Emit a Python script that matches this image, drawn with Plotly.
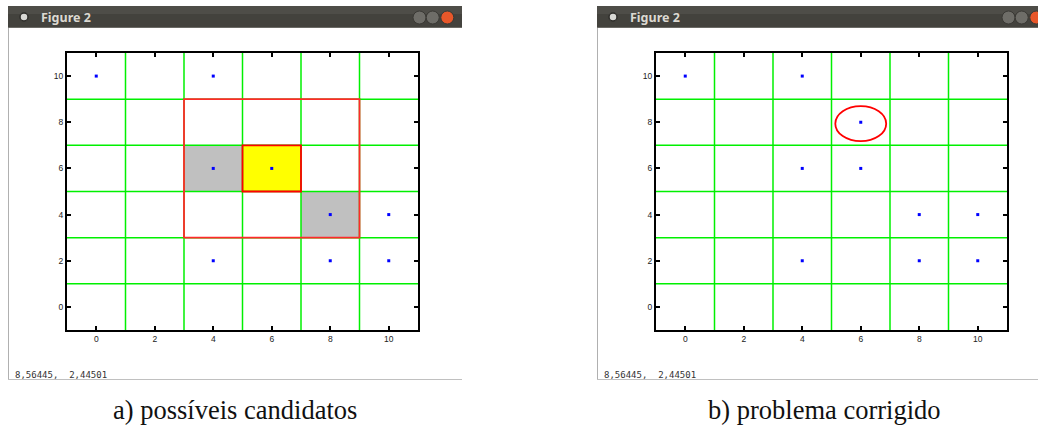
import plotly.graph_objects as go

W, H = 1038, 425

# ---- data ----
tick_vals = [0, 2, 4, 6, 8, 10]
grid_lines = [1, 3, 5, 7, 9]
axis_range = [-1, 11]

pts_a_x = [0, 4, 4, 6, 8, 10, 4, 8, 10]
pts_a_y = [10, 10, 6, 6, 4, 4, 2, 2, 2]

pts_b_x = [0, 4, 6, 4, 6, 8, 10, 4, 8, 10]
pts_b_y = [10, 10, 8, 6, 6, 4, 4, 2, 2, 2]

search_box = [3, 9, 3, 9]             # x0, x1, y0, y1
current_cell = [5, 7, 5, 7]
candidate_cells = [[3, 5, 5, 7], [7, 9, 3, 5]]
corrected_point = [6, 8]

status_text = "8,56445,  2,44501"
window_title = "Figure 2"
captions = ["a) possíveis candidatos", "b) problema corrigido"]


def px(x):
    return x / W


def py(y):
    return 1 - y / H


fig = go.Figure()

win_offsets = [0, 589]
pts = [(pts_a_x, pts_a_y), (pts_b_x, pts_b_y)]
axes = [("x", "y"), ("x2", "y2")]

for i, off in enumerate(win_offsets):
    xa, ya = axes[i]
    fig.add_trace(go.Scatter(
        x=pts[i][0], y=pts[i][1], mode="markers",
        marker=dict(symbol="square", size=3, color="#0000ff", line=dict(width=0)),
        xaxis=xa, yaxis=ya, showlegend=False, hoverinfo="skip"))

axis_common = dict(
    range=axis_range, tickvals=tick_vals, ticks="inside", ticklen=4, tickwidth=1.5,
    tickcolor="black", showline=True, linecolor="black", linewidth=2, mirror="ticks",
    showgrid=False, zeroline=False,
    tickfont=dict(family="Liberation Sans", size=8.5, color="#222"),
)

ydom = [py(330), py(53)]
fig.update_layout(
    width=W, height=H, margin=dict(l=0, r=0, t=0, b=0),
    paper_bgcolor="white", plot_bgcolor="white", showlegend=False,
    xaxis=dict(domain=[px(67), px(418)], anchor="y", **axis_common),
    yaxis=dict(domain=ydom, anchor="x", **axis_common),
    xaxis2=dict(domain=[px(656), px(1007)], anchor="y2", **axis_common),
    yaxis2=dict(domain=ydom, anchor="x2", **axis_common),
)

shapes = []
annotations = []

# ---- panel a fills (below grid) ----
for c in candidate_cells:
    shapes.append(dict(type="rect", xref="x", yref="y", x0=c[0], x1=c[1], y0=c[2], y1=c[3],
                       fillcolor="#c0c0c0", line=dict(width=0), layer="below"))
shapes.append(dict(type="rect", xref="x", yref="y",
                   x0=current_cell[0], x1=current_cell[1], y0=current_cell[2], y1=current_cell[3],
                   fillcolor="#ffff00", line=dict(width=0), layer="below"))

# ---- green grid lines ----
for xa, ya in axes:
    for g in grid_lines:
        shapes.append(dict(type="line", xref=xa, yref=ya, x0=g, x1=g,
                           y0=axis_range[0], y1=axis_range[1],
                           line=dict(color="#00f000", width=1.5), layer="below"))
        shapes.append(dict(type="line", xref=xa, yref=ya, y0=g, y1=g,
                           x0=axis_range[0], x1=axis_range[1],
                           line=dict(color="#00f000", width=1.5), layer="below"))

# ---- panel a outlines ----
shapes.append(dict(type="rect", xref="x", yref="y",
                   x0=search_box[0], x1=search_box[1], y0=search_box[2], y1=search_box[3],
                   line=dict(color="#ff2a2a", width=1.8), layer="above"))
shapes.append(dict(type="rect", xref="x", yref="y",
                   x0=current_cell[0], x1=current_cell[1], y0=current_cell[2], y1=current_cell[3],
                   line=dict(color="#ff0000", width=1.8), layer="above"))

# ---- panel b marks ----
cx, cy = corrected_point
shapes.append(dict(type="circle", xref="x2", yref="y2",
                   x0=cx - 0.87, x1=cx + 0.87, y0=cy - 0.82, y1=cy + 0.7,
                   line=dict(color="#ff0000", width=1.8), layer="above"))

# ---- window chrome ----
for i, off in enumerate(win_offsets):
    l, r = 8 + off, min(462 + off, W)
    shapes.append(dict(type="rect", xref="paper", yref="paper",
                       x0=px(l), x1=px(r), y0=py(28), y1=py(6),
                       fillcolor="#43423d", line=dict(width=0), layer="above"))
    shapes.append(dict(type="rect", xref="paper", yref="paper",
                       x0=px(l), x1=px(r), y0=py(14), y1=py(6),
                       fillcolor="#4e4d48", line=dict(width=0), layer="above"))
    shapes.append(dict(type="line", xref="paper", yref="paper",
                       x0=px(l), x1=px(r), y0=py(27.5), y1=py(27.5),
                       line=dict(color="#6b6a65", width=1), layer="above"))
    shapes.append(dict(type="line", xref="paper", yref="paper",
                       x0=px(l + 0.5), x1=px(l + 0.5), y0=py(28), y1=py(379),
                       line=dict(color="#b0b0b0", width=1)))
    shapes.append(dict(type="line", xref="paper", yref="paper",
                       x0=px(l), x1=px(r), y0=py(379.5), y1=py(379.5),
                       line=dict(color="#c0c0c0", width=1)))
    cxp = 24 + off
    shapes.append(dict(type="circle", xref="paper", yref="paper",
                       x0=px(cxp - 4), x1=px(cxp + 4), y0=py(21), y1=py(13),
                       fillcolor="#d8d8d4", line=dict(color="#2e2d2a", width=1.5), layer="above"))
    for bx, col in [(419.5, "#6e6d68"), (432.7, "#6e6d68"), (447.3, "#e8572a")]:
        bx = bx + off
        shapes.append(dict(type="circle", xref="paper", yref="paper",
                           x0=px(bx - 6.5), x1=px(bx + 6.5), y0=py(24), y1=py(11),
                           fillcolor=col, line=dict(color="#3a3935", width=1), layer="above"))
    annotations.append(dict(text="<b>" + window_title + "</b>", xref="paper", yref="paper",
                            x=px(39 + off), y=py(17), xanchor="left", yanchor="middle",
                            showarrow=False,
                            font=dict(family="Noto Sans", size=12.5, color="#dcd9d2")))
    annotations.append(dict(text=status_text, xref="paper", yref="paper",
                            x=px(13 + off), y=py(375), xanchor="left", yanchor="middle",
                            showarrow=False,
                            font=dict(family="DejaVu Sans Mono", size=9, color="#333")))
    annotations.append(dict(text=captions[i], xref="paper", yref="paper",
                            x=px(235 + off), y=py(410), xanchor="center", yanchor="middle",
                            showarrow=False,
                            font=dict(family="Liberation Serif", size=26.5, color="#111")))

fig.update_layout(shapes=shapes, annotations=annotations)
fig.write_html("out.html")
